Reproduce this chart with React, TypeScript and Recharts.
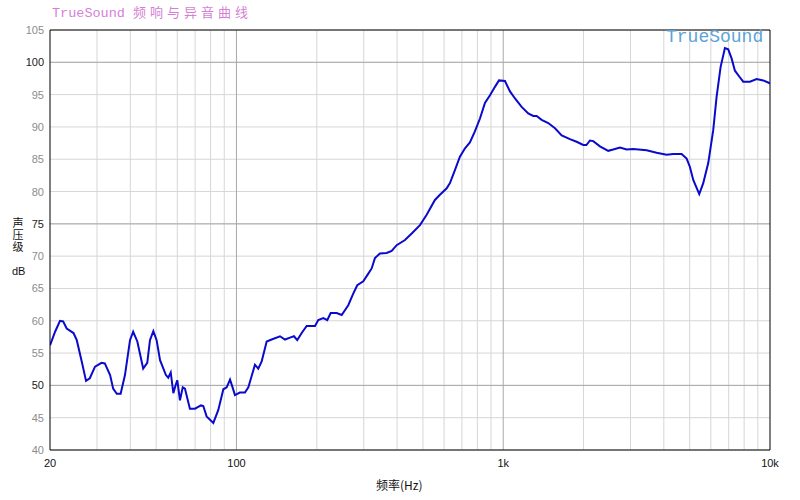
import React from "react"
import {
  LineChart,
  Line,
  XAxis,
  YAxis,
  CartesianGrid,
  ReferenceLine
} from "recharts"

// frequency (Hz)
const freqs = [
  20, 20.9, 21.8, 22.4, 23.1, 24.5, 25.2, 26.3, 27.3, 28.2, 29.5, 31.2, 32.1, 33.6, 34.5, 35.6,
  36.8, 38.2, 39.9, 41.0, 42.5, 44.7, 46.3, 47.4, 48.8, 50.2, 51.7, 54.4, 55.5, 56.7, 58.0, 59.2,
  60.0, 61.4, 62.9, 64.1, 66.9, 69.9, 73.6, 75.1, 77.3, 81.9, 85.5, 89.3, 91.9, 94.6, 96.5, 98.7,
  103, 107.6, 110.8, 117.3, 120.7, 124.3, 129.8, 135.5, 145.6, 152, 158.7, 164.3, 169, 175.6,
  183.3, 197, 202.6, 211.6, 219, 225.5, 237.5, 248, 262.5, 274, 283.7, 298.8, 312, 321.2, 330.4,
  345, 365.6, 381.8, 398.6, 428.2, 453.8, 487.4, 516.4, 554.6, 579, 613.8, 631.4, 659, 688, 719,
  750, 783, 818, 854, 892, 931, 964, 1015, 1060, 1107, 1172, 1241, 1296, 1334, 1393, 1475, 1563,
  1656, 1778, 1884, 1995, 2050, 2114, 2175, 2304, 2475, 2584, 2738, 2900, 3072, 3448, 3758, 4098,
  4338, 4664, 4870, 5010, 5156, 5430, 5620, 5868, 6126, 6308, 6530, 6776, 6972, 7178, 7388, 7668,
  7938, 8410, 8910, 9432, 9932, 10000
]

// sound pressure level (dB)
const spl = [
  56.2, 58.3, 60.0, 59.9, 58.8, 58.1, 57.0, 53.7, 50.7, 51.1, 52.9, 53.5, 53.4, 51.6, 49.5, 48.7,
  48.7, 51.6, 57.0, 58.3, 56.8, 52.6, 53.5, 57.0, 58.4, 57.0, 53.9, 51.6, 51.2, 52.0, 48.8, 50.1,
  50.8, 47.7, 49.7, 49.5, 46.4, 46.4, 46.9, 46.8, 45.2, 44.2, 46.2, 49.4, 49.7, 50.9, 49.8, 48.5,
  48.9, 48.9, 49.7, 53.2, 52.6, 53.7, 56.8, 57.1, 57.6, 57.1, 57.4, 57.6, 57.0, 58.1,
  59.2, 59.2, 60.1, 60.4, 60.1, 61.2, 61.2, 60.9, 62.4, 64.2, 65.5, 66.1, 67.3, 68.1, 69.7,
  70.4, 70.5, 70.8, 71.7, 72.5, 73.5, 74.8, 76.4, 78.7, 79.5, 80.5, 81.3, 83.3, 85.4, 86.7,
  87.6, 89.3, 91.3, 93.7, 94.9, 96.2, 97.2, 97.1, 95.5, 94.4, 93.1, 92.1, 91.7, 91.7, 91.1, 90.6, 89.8,
  88.7, 88.1, 87.7, 87.2, 87.2, 87.9, 87.8, 87.0, 86.3, 86.5, 86.8, 86.5, 86.6, 86.4, 86.0, 85.7,
  85.8, 85.8, 85.1, 83.8, 81.8, 79.6, 81.3, 84.4, 89.5, 94.7, 99.3, 102.2, 102.0, 100.6, 98.7, 97.8,
  97.0, 97.0, 97.4, 97.2, 96.8, 96.7
]

const xTicks = [20, 100, 1000, 10000]
const xTickLabels = ["20", "100", "1k", "10k"]
const yTicks = [40, 45, 50, 55, 60, 65, 70, 75, 80, 85, 90, 95, 100, 105]
const majorY = [50, 75, 100]
const majorX = [100, 1000]
const minorX = [
  30, 40, 50, 60, 70, 80, 90,
  200, 300, 400, 500, 600, 700, 800, 900,
  2000, 3000, 4000, 5000, 6000, 7000, 8000, 9000
]

const data = freqs.map((f, i) => ({ f, db: spl[i] }))

const tickFont = "'Liberation Sans', Arial, sans-serif"
const cjkFont = "'Noto Sans CJK SC', sans-serif"

function YTick(props: any) {
  const { x, y, payload } = props
  const dark = majorY.includes(payload.value)
  return (
    <text x={x} y={y} dy={4} textAnchor="end" fontSize={11} fontFamily={tickFont} fill={dark ? "#222" : "#8c8c8c"}>
      {payload.value}
    </text>
  )
}

export default function App() {
  return (
    <div style={{ position: "absolute", left: 0, top: 0, width: 800, height: 500, background: "#fff" }}>
      <div style={{ position: "absolute", left: 52, top: 2, fontSize: 14, color: "#d67fd6", whiteSpace: "nowrap" }}>
        <span style={{ fontFamily: "'Liberation Mono', monospace", fontSize: 13.5 }}>TrueSound</span>
        <span style={{ fontFamily: cjkFont, fontSize: 13, letterSpacing: 4, marginLeft: 8 }}>频响与异音曲线</span>
      </div>
      <LineChart width={800} height={500} data={data} margin={{ top: 30, right: 30, bottom: 0, left: 0 }}>
        <CartesianGrid vertical={false} stroke="#d6d6d6" />
        {minorX.map((v) => (
          <ReferenceLine key={"mx" + v} x={v} stroke="#d6d6d6" />
        ))}
        {majorX.map((v) => (
          <ReferenceLine key={"Mx" + v} x={v} stroke="#a9a9a9" />
        ))}
        {majorY.map((v) => (
          <ReferenceLine key={"My" + v} y={v} stroke="#a9a9a9" />
        ))}
        <ReferenceLine y={105} stroke="#000" />
        <ReferenceLine x={10000} stroke="#000" />
        <XAxis
          dataKey="f"
          type="number"
          scale="log"
          domain={[20, 10000]}
          ticks={xTicks}
          allowDataOverflow
          height={50}
          tickLine={false}
          tickSize={6}
          tickMargin={3}
          stroke="#000"
          tick={{ fontSize: 11, fontFamily: tickFont, fill: "#111" }}
          tickFormatter={(v) => xTickLabels[xTicks.indexOf(v)] ?? String(v)}
        />
        <YAxis
          type="number"
          domain={[40, 105]}
          ticks={yTicks}
          interval={0}
          width={50}
          tickLine={false}
          tickSize={4}
          tickMargin={2}
          stroke="#000"
          tick={<YTick />}
        />
        <Line
          type="linear"
          dataKey="db"
          stroke="#0a0acc"
          strokeWidth={2}
          dot={false}
          isAnimationActive={false}
        />
      </LineChart>
      <div style={{ position: "absolute", left: 666, top: 27, fontFamily: "'Liberation Mono', monospace", fontSize: 18, color: "#5ea3d6", lineHeight: "20px" }}>
        TrueSound
      </div>
      <div style={{ position: "absolute", left: 11, top: 217, writingMode: "vertical-rl", fontFamily: cjkFont, fontSize: 11, lineHeight: "14px", letterSpacing: 1, color: "#111" }}>
        声压级
      </div>
      <div style={{ position: "absolute", left: 12, top: 265, fontFamily: tickFont, fontSize: 11, color: "#111" }}>
        dB
      </div>
      <div style={{ position: "absolute", left: 376, top: 476, fontFamily: cjkFont, fontSize: 12, color: "#111", whiteSpace: "nowrap" }}>
        频率(Hz)
      </div>
    </div>
  )
}
